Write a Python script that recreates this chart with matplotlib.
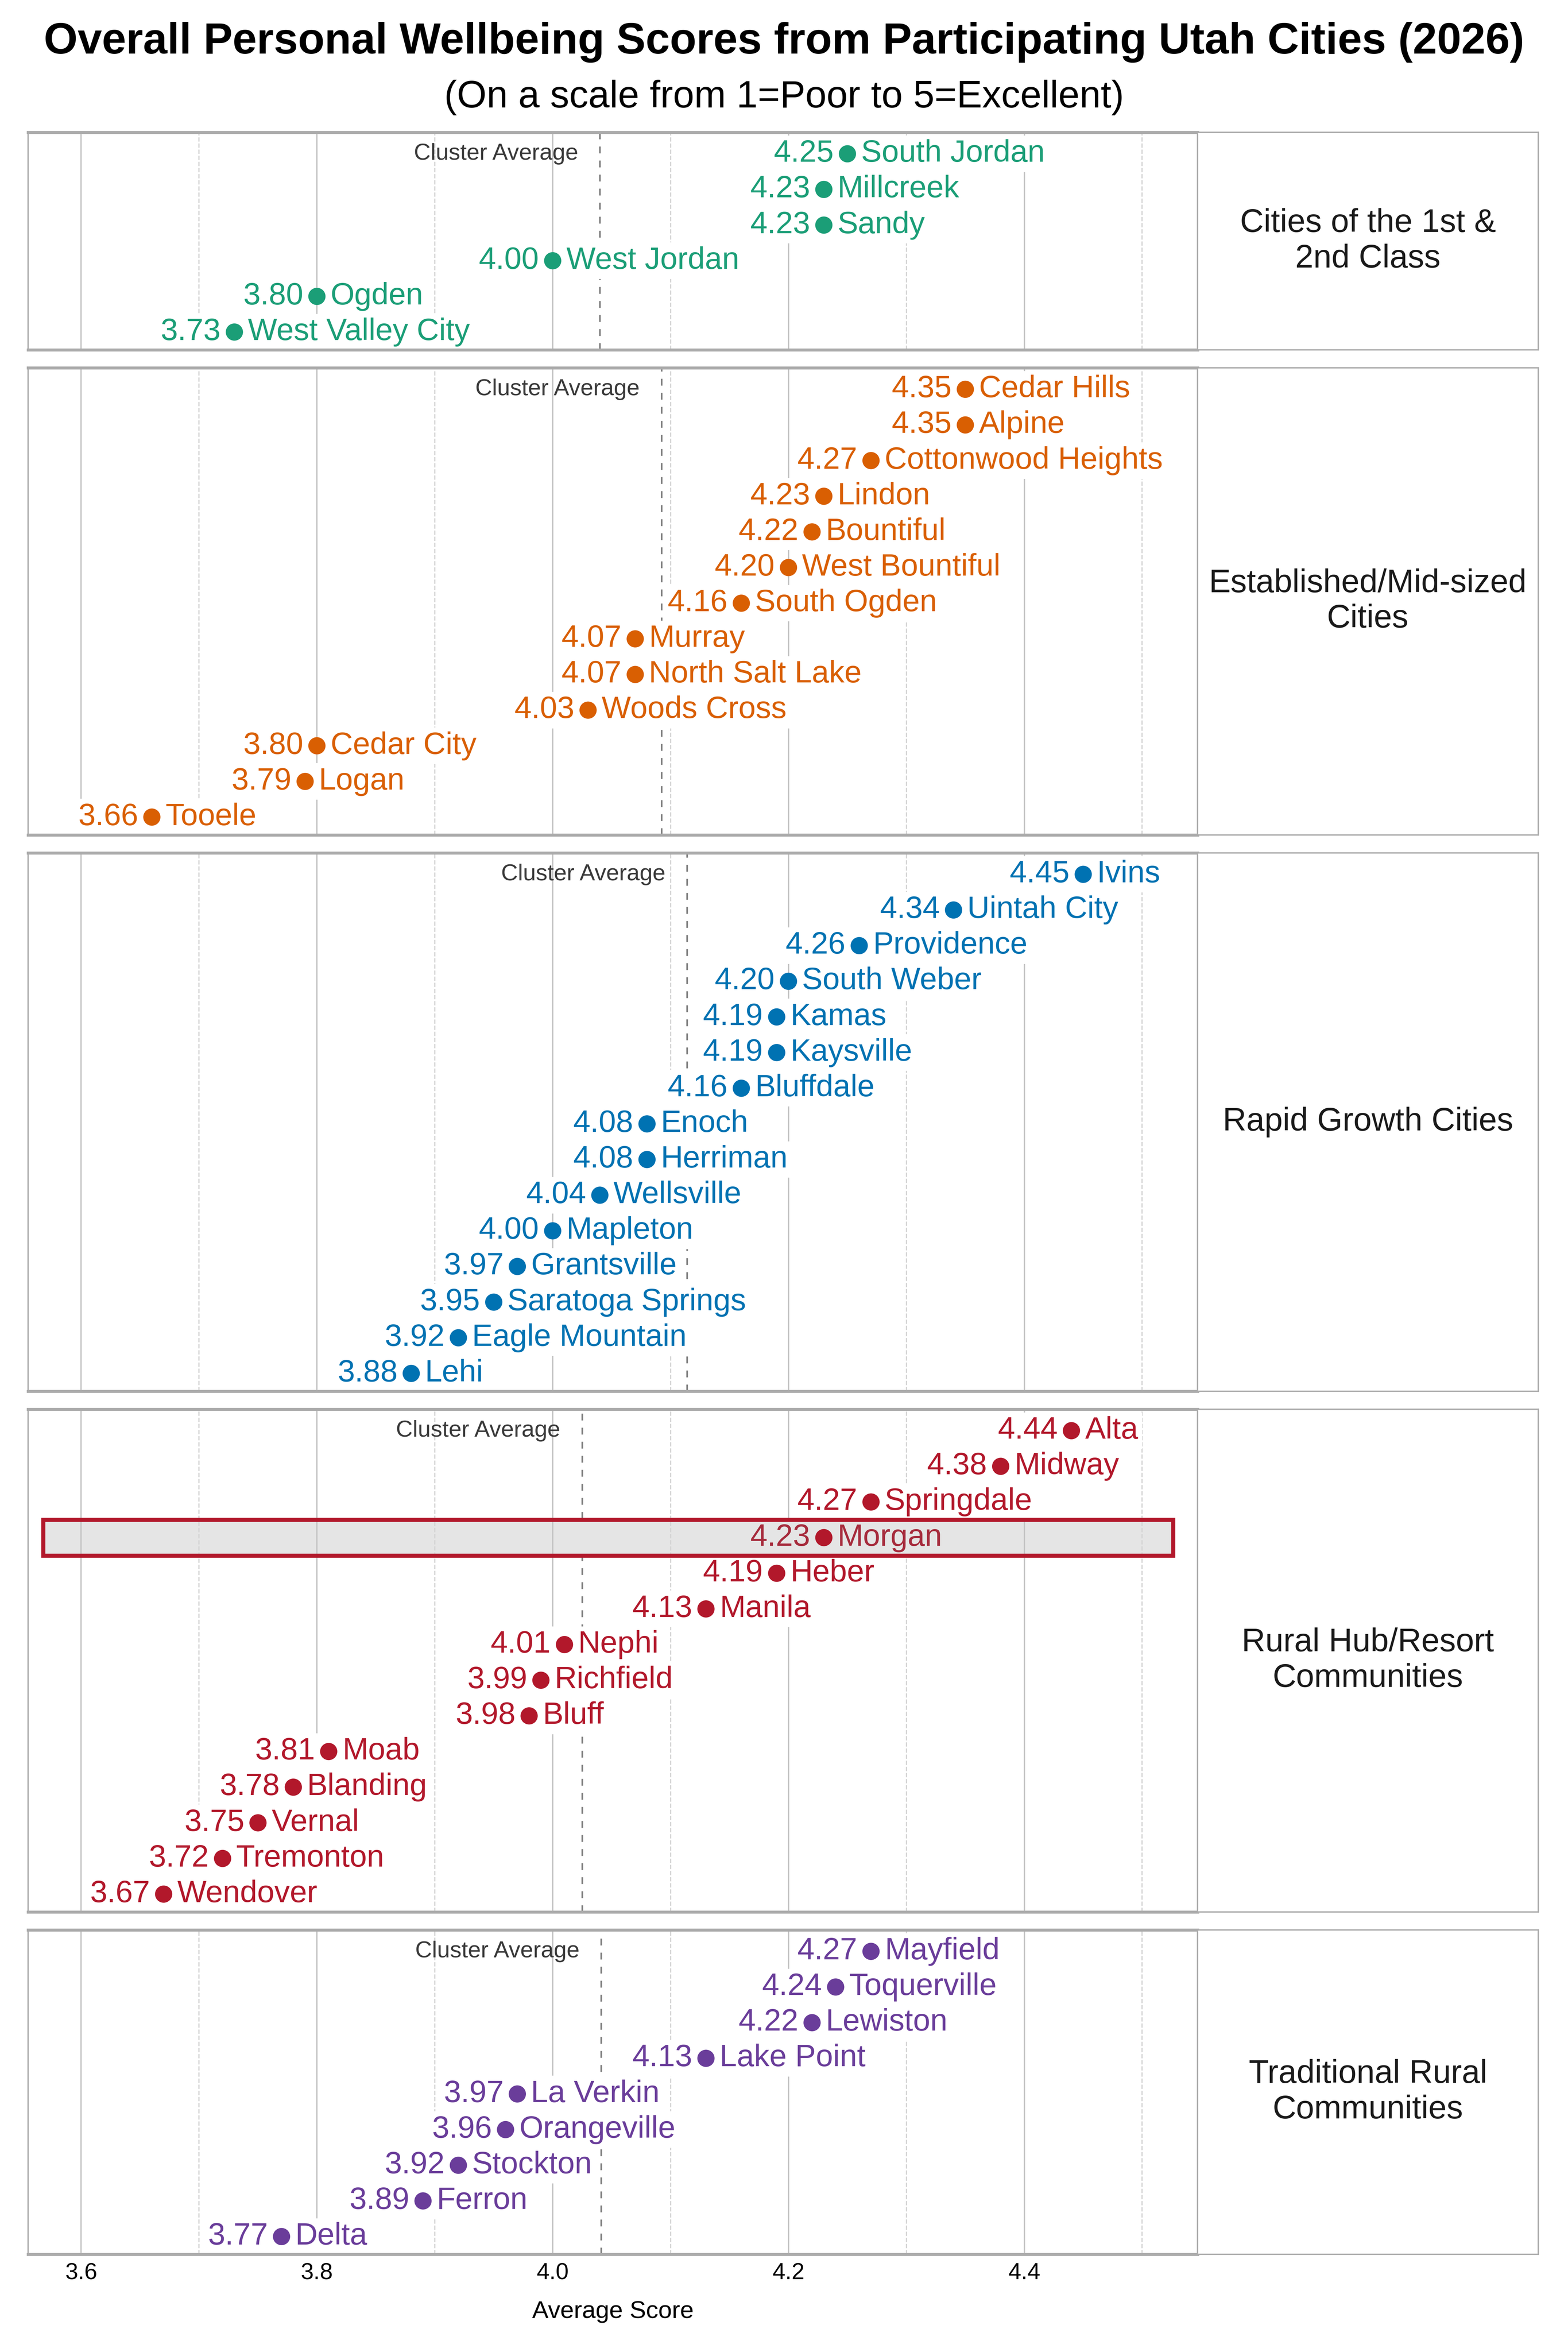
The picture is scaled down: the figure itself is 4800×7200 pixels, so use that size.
import matplotlib
matplotlib.use("Agg")
import matplotlib.pyplot as plt
import matplotlib.transforms as mtransforms
from matplotlib.patches import Rectangle
import numpy as np

plt.rcParams['font.family'] = ['Liberation Sans', 'DejaVu Sans']

# cluster names (right strip) and data
clusters = ["Cities of the 1st &\n2nd Class", "Established/Mid-sized\nCities",
            "Rapid Growth Cities", "Rural Hub/Resort\nCommunities",
            "Traditional Rural\nCommunities"]
colors = ['#1b9e77', '#d95f02', '#0072b2', '#b2182b', '#6a3d9a']

cities_1 = ["South Jordan", "Millcreek", "Sandy", "West Jordan", "Ogden", "West Valley City"]
scores_1 = [4.25, 4.23, 4.23, 4.00, 3.80, 3.73]

cities_2 = ["Cedar Hills", "Alpine", "Cottonwood Heights", "Lindon", "Bountiful",
            "West Bountiful", "South Ogden", "Murray", "North Salt Lake", "Woods Cross",
            "Cedar City", "Logan", "Tooele"]
scores_2 = [4.35, 4.35, 4.27, 4.23, 4.22, 4.20, 4.16, 4.07, 4.07, 4.03, 3.80, 3.79, 3.66]

cities_3 = ["Ivins", "Uintah City", "Providence", "South Weber", "Kamas", "Kaysville",
            "Bluffdale", "Enoch", "Herriman", "Wellsville", "Mapleton", "Grantsville",
            "Saratoga Springs", "Eagle Mountain", "Lehi"]
scores_3 = [4.45, 4.34, 4.26, 4.20, 4.19, 4.19, 4.16, 4.08, 4.08, 4.04, 4.00, 3.97,
            3.95, 3.92, 3.88]

cities_4 = ["Alta", "Midway", "Springdale", "Morgan", "Heber", "Manila", "Nephi",
            "Richfield", "Bluff", "Moab", "Blanding", "Vernal", "Tremonton", "Wendover"]
scores_4 = [4.44, 4.38, 4.27, 4.23, 4.19, 4.13, 4.01, 3.99, 3.98, 3.81, 3.78, 3.75,
            3.72, 3.67]

cities_5 = ["Mayfield", "Toquerville", "Lewiston", "Lake Point", "La Verkin",
            "Orangeville", "Stockton", "Ferron", "Delta"]
scores_5 = [4.27, 4.24, 4.22, 4.13, 3.97, 3.96, 3.92, 3.89, 3.77]

highlight = "Morgan"

all_cities = [cities_1, cities_2, cities_3, cities_4, cities_5]
all_scores = [scores_1, scores_2, scores_3, scores_4, scores_5]

lo = min(min(s) for s in all_scores) - 0.105
hi = max(max(s) for s in all_scores) + 0.097

fig = plt.figure(figsize=(16, 24), dpi=300)
heights = [len(c) + 0.1 for c in all_cities]
gs = fig.add_gridspec(5, 2, height_ratios=heights, width_ratios=[3581, 1043],
                      left=0.0179, right=0.981, top=0.9437, bottom=0.0415,
                      hspace=0.044, wspace=0.0)

spine_col = '#ababab'
for i in range(5):
    ax = fig.add_subplot(gs[i, 0])
    sx = fig.add_subplot(gs[i, 1])
    names = all_cities[i]
    vals = all_scores[i]
    col = colors[i]
    n = len(names)
    ypos = np.arange(n)

    ax.set_xlim(lo, hi)
    ax.set_ylim(n - 0.5, -0.6)
    ax.set_xticks([3.6, 3.8, 4.0, 4.2, 4.4])
    ax.set_xticks([3.7, 3.9, 4.1, 4.3, 4.5], minor=True)
    ax.grid(axis='x', which='major', color='#c4c4c4', lw=1.0, zorder=0)
    ax.grid(axis='x', which='minor', color='#d4d4d4', lw=0.9, ls=(0, (3.5, 1.5)), zorder=0)
    ax.set_yticks([])
    ax.tick_params(axis='x', which='both', length=0, labelsize=17, pad=6)
    if i < 4:
        ax.tick_params(axis='x', labelbottom=False)
    else:
        ax.set_xlabel("Average Score", fontsize=18, labelpad=12)
    for s in ax.spines.values():
        s.set_color(spine_col)
        s.set_linewidth(1.0)
        s.set_zorder(6)
    ax.spines['top'].set_linewidth(2.2)
    ax.spines['bottom'].set_linewidth(2.2)

    # cluster average
    avg = np.mean(vals)
    ax.axvline(avg, color='#808080', lw=1.2, ls=(0, (4.2, 4.4)), zorder=1)
    ax.annotate("Cluster Average", (avg, 0), xytext=(-16, 0), textcoords='offset points',
                ha='right', va='center', fontsize=17, color='#3a3a3a', zorder=2)

    for y, name, v in zip(ypos, names, vals):
        face = 'white'
        tcol = col
        if name == highlight:
            trans = mtransforms.blended_transform_factory(ax.transAxes, ax.transData)
            ax.add_patch(Rectangle((0.013, y - 0.5), 0.966, 1.0, transform=trans,
                                   facecolor='#e5e5e5', edgecolor='none', zorder=1.5))
            ax.add_patch(Rectangle((0.013, y - 0.5), 0.966, 1.0, transform=trans,
                                   facecolor='none', edgecolor=col, lw=3.0, zorder=3.5))
            face = '#e5e5e5'
            tcol = '#a62b3c'
        bb = dict(boxstyle='square,pad=0.12', fc=face, ec='none')
        ax.annotate(f"{v:.2f}", (v, y), xytext=(-10, 0), textcoords='offset points',
                    ha='right', va='center', fontsize=22.7, color=tcol, bbox=bb, zorder=3)
        ax.annotate(name, (v, y), xytext=(10, 0), textcoords='offset points',
                    ha='left', va='center', fontsize=22.7, color=tcol, bbox=bb, zorder=3)
    ax.scatter(vals, ypos, s=160, color=col, edgecolors='none', zorder=4)

    # strip on the right
    sx.set_xticks([])
    sx.set_yticks([])
    for s in sx.spines.values():
        s.set_color(spine_col)
        s.set_linewidth(1.0)
    sx.text(0.5, 0.5, clusters[i], ha='center', va='center', fontsize=24,
            color='#1a1a1a', linespacing=1.2, transform=sx.transAxes)

fig.text(0.5, 0.982, "Overall Personal Wellbeing Scores from Participating Utah Cities (2026)",
         ha='center', va='center', fontsize=32, fontweight='bold')
fig.text(0.5, 0.9585, "(On a scale from 1=Poor to 5=Excellent)",
         ha='center', va='center', fontsize=28)

fig.savefig("out.png", dpi=300)
